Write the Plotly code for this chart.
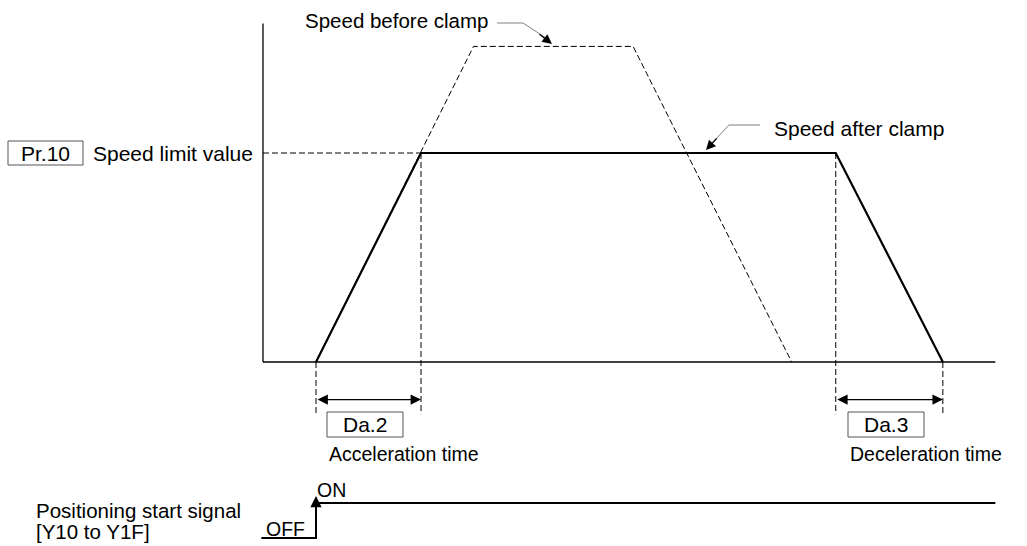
import plotly.graph_objects as go

# ---------------- data (diagram units) ----------------
# time in arbitrary units (0 = start of acceleration), speed in % of speed limit
after_t = [0, 100, 495, 597]
after_v = [0, 100, 100, 0]
before_t = [0, 150, 302, 453]
before_v = [0, 151, 151, 0]
speed_limit = 100
accel_span = [0, 100]
decel_span = [495, 597]
axis_t = [-50.5, 647]
axis_vmax = 162
signal_t = [-52, 0, 0, 647]
signal_v = [0, 0, 1, 1]      # 0 = OFF, 1 = ON
ext_bottom_v = -25           # bottom of vertical extension lines
span_arrow_v = -18           # level of double arrows

labels = {
    "before": "Speed before clamp",
    "after": "Speed after clamp",
    "limit": "Speed limit value",
    "pr": "Pr.10",
    "da2": "Da.2",
    "da3": "Da.3",
    "acc": "Acceleration time",
    "dec": "Deceleration time",
    "sig1": "Positioning start signal",
    "sig2": "[Y10 to Y1F]",
    "on": "ON",
    "off": "OFF",
}

# ---------------- geometry of the canvas ----------------
W, H = 1027, 546
T0_PX, PX_PER_T = 316, 1.05
V0_PX, PX_PER_V = 362, 2.09
xr = [(0 - T0_PX) / PX_PER_T, (W - T0_PX) / PX_PER_T]
yr = [(V0_PX - H) / PX_PER_V, V0_PX / PX_PER_V]
S0_PX, PX_PER_S = 538, 35
y2r = [-(H - S0_PX) / PX_PER_S, -(H - S0_PX) / PX_PER_S + H / PX_PER_S]

FONT = "Arial, Liberation Sans, sans-serif"
FS = 21
BLACK = "#000000"
GREY = "#808080"

def px(xp):
    return xp / W

def py(yp):
    return 1 - yp / H

fig = go.Figure()

def line(x, y, width=1, dash=None, color=BLACK, yaxis="y"):
    fig.add_trace(go.Scatter(x=x, y=y, mode="lines", yaxis=yaxis,
                             line=dict(color=color, width=width, dash=dash),
                             hoverinfo="skip", showlegend=False))

DASH = "6px,3px"
# axes
line([axis_t[0], axis_t[0]], [axis_vmax, 0], width=1.3)
line([axis_t[0], axis_t[1]], [0, 0], width=1.3)
# speed before clamp (dashed)
line(before_t, before_v, width=1, dash=DASH)
# speed limit dashed horizontal
line([axis_t[0], after_t[1]], [speed_limit, speed_limit], width=1, dash=DASH)
# vertical extension lines
line([accel_span[0], accel_span[0]], [0, ext_bottom_v], dash=DASH)
line([accel_span[1], accel_span[1]], [speed_limit, ext_bottom_v], dash=DASH)
line([decel_span[0], decel_span[0]], [speed_limit, ext_bottom_v], dash=DASH)
line([decel_span[1], decel_span[1]], [0, ext_bottom_v], dash=DASH)
# speed after clamp (solid)
line(after_t, after_v, width=2.2)
# signal
line(signal_t, signal_v, width=2, yaxis="y2")

annotations = []
# double arrows
for a, b in (accel_span, decel_span):
    annotations.append(dict(x=b, y=span_arrow_v, ax=a, ay=span_arrow_v,
                            xref="x", yref="y", axref="x", ayref="y",
                            showarrow=True, arrowhead=2, arrowside="end+start",
                            arrowsize=1.6, arrowwidth=1.3, arrowcolor=BLACK, text=""))
# signal arrow head
annotations.append(dict(x=signal_t[1], y=signal_v[2] + 0.2, ax=signal_t[1], ay=signal_v[0] + 0.3,
                        xref="x", yref="y2", axref="x", ayref="y2",
                        showarrow=True, arrowhead=2, arrowsize=1.4, arrowwidth=1.6,
                        arrowcolor=BLACK, text=""))

# leaders (grey) for labels
fig.add_shape(type="path", xref="paper", yref="paper",
              path=f"M {px(497)} {py(23)} L {px(523)} {py(23)} L {px(546)} {py(38)}",
              line=dict(color=GREY, width=1))
annotations.append(dict(x=px(552), y=py(44), ax=-14, ay=-11, xref="paper", yref="paper",
                        axref="pixel", ayref="pixel", showarrow=True, arrowhead=2,
                        arrowsize=1.6, arrowwidth=1.2, arrowcolor=BLACK, text=""))
fig.add_shape(type="path", xref="paper", yref="paper",
              path=f"M {px(760)} {py(125)} L {px(729)} {py(125)} L {px(712)} {py(143)}",
              line=dict(color=GREY, width=1))
annotations.append(dict(x=px(706), y=py(150), ax=12, ay=-13, xref="paper", yref="paper",
                        axref="pixel", ayref="pixel", showarrow=True, arrowhead=2,
                        arrowsize=1.6, arrowwidth=1.2, arrowcolor=BLACK, text=""))

def text(t, xp, yp, anchor="left", size=FS):
    annotations.append(dict(text=t, x=px(xp), y=py(yp), xref="paper", yref="paper",
                            xanchor=anchor, yanchor="middle", showarrow=False,
                            font=dict(family=FONT, size=size, color=BLACK)))

def boxed(t, x0, x1, y0, y1):
    fig.add_shape(type="rect", xref="paper", yref="paper",
                  x0=px(x0), x1=px(x1), y0=py(y1), y1=py(y0),
                  line=dict(color="#555555", width=1), fillcolor="white")
    text(t, (x0 + x1) / 2, (y0 + y1) / 2, anchor="center")

text(labels["before"], 303, 21, size=20.5)
text(labels["after"], 772, 128)
text(labels["limit"], 91, 153)
boxed(labels["pr"], 8, 83, 141, 165)
boxed(labels["da2"], 327, 403, 412, 437)
boxed(labels["da3"], 848, 924, 412, 437)
text(labels["acc"], 327, 454, size=19.5)
text(labels["dec"], 848, 454, size=19.5)
text(labels["sig1"], 34, 510, size=20.5)
text(labels["sig2"], 34, 531, size=20.5)
text(labels["on"], 315, 490, size=19.5)
text(labels["off"], 264, 529, size=19.5)

fig.update_layout(
    width=W, height=H,
    margin=dict(l=0, r=0, t=0, b=0),
    paper_bgcolor="white", plot_bgcolor="white",
    xaxis=dict(range=xr, visible=False, fixedrange=True),
    yaxis=dict(range=yr, visible=False, fixedrange=True),
    yaxis2=dict(range=y2r, visible=False, overlaying="y", fixedrange=True),
    annotations=annotations,
    showlegend=False,
)
fig.write_html("out.html", config={"displayModeBar": False},
               post_script="document.body.style.margin='0';")
